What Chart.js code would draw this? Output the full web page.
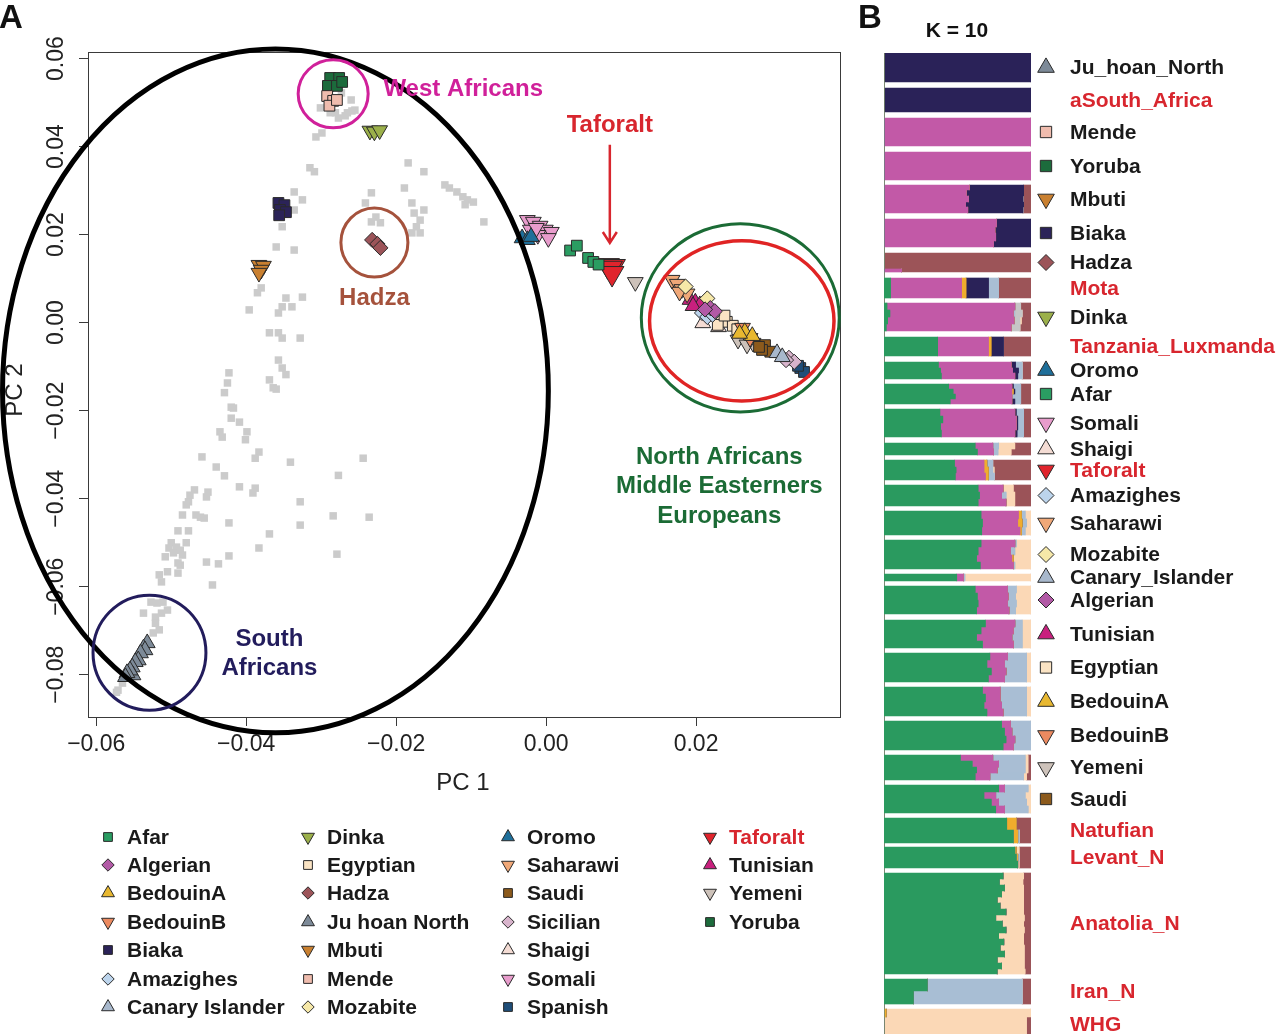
<!DOCTYPE html>
<html>
<head>
<meta charset="utf-8">
<title>PCA and ADMIXTURE K = 10</title>
<script src="https://cdn.jsdelivr.net/npm/chart.js@4"></script>
<style>
  html, body { margin: 0; padding: 0; background: #fff; overflow: hidden; }
  #wrap { position: relative; width: 1280px; height: 1034px; }
  #pca { position: absolute; left: 0; top: 0; }
  #admix { position: absolute; left: 850px; top: 0; }
</style>
</head>
<body>
<div id="wrap">
  <canvas id="pca" width="860" height="1034"></canvas>
  <canvas id="admix" width="430" height="1040"></canvas>
</div>
<script>
// ---------- panel A data (PC1, PC2) ----------
const xTicks = [-0.06, -0.04, -0.02, 0.00, 0.02];
const yTicks = [-0.08, -0.06, -0.04, -0.02, 0.00, 0.02, 0.04, 0.06];

const refPanel = [
  [-0.0307,0.0422],[-0.0299,0.0431],[-0.0273,0.0522],[-0.0260,0.0506],[-0.0265,0.0477],[-0.0281,0.0477],
  [-0.0255,0.0483],[-0.0301,0.0488],[-0.0288,0.0477],[-0.0268,0.0470],[-0.0259,0.0481],[-0.0277,0.0465],
  [-0.0315,0.0352],[-0.0309,0.0343],[-0.0184,0.0363],[-0.0163,0.0343],[-0.0189,0.0306],
  [-0.0135,0.0313],[-0.0129,0.0306],[-0.0119,0.0297],[-0.0111,0.0286],[-0.0105,0.0279],[-0.0097,0.0274],
  [-0.0108,0.0268],[-0.0083,0.0229],[-0.0336,0.0297],[-0.0325,0.0279],[-0.0233,0.0295],[-0.0241,0.0272],
  [-0.0179,0.0272],[-0.0163,0.0256],[-0.0176,0.0249],[-0.0168,0.0233],[-0.0173,0.0218],[-0.0168,0.0204],
  [-0.0179,0.0204],[-0.0227,0.0240],[-0.0233,0.0229],[-0.0221,0.0227],[-0.0336,0.0256],[-0.0352,0.0218],
  [-0.0360,0.0172],[-0.0336,0.0165],[-0.0380,0.0079],[-0.0385,0.0068],[-0.0347,0.0056],[-0.0325,0.0058],
  [-0.0352,0.0036],[-0.0339,0.0036],[-0.0357,0.0022],[-0.0396,0.0029],[-0.0369,-0.0023],[-0.0357,-0.0023],
  [-0.0352,-0.0035],[-0.0328,-0.0035],[-0.0357,-0.0085],[-0.0352,-0.0103],[-0.0347,-0.0118],[-0.0369,-0.0130],
  [-0.0364,-0.0148],[-0.0423,-0.0114],[-0.0425,-0.0137],[-0.0429,-0.0159],[-0.0360,-0.0151],[-0.0420,-0.0192],
  [-0.0417,-0.0194],[-0.0420,-0.0217],[-0.0409,-0.0226],[-0.0435,-0.0248],[-0.0432,-0.0260],[-0.0399,-0.0248],
  [-0.0401,-0.0266],[-0.0459,-0.0305],[-0.0440,-0.0328],[-0.0429,-0.0348],[-0.0383,-0.0294],[-0.0388,-0.0308],
  [-0.0341,-0.0317],[-0.0244,-0.0308],[-0.0277,-0.0347],[-0.0469,-0.0380],[-0.0475,-0.0392],[-0.0477,-0.0407],
  [-0.0480,-0.0414],[-0.0451,-0.0385],[-0.0453,-0.0396],[-0.0409,-0.0373],[-0.0388,-0.0376],[-0.0391,-0.0387],
  [-0.0328,-0.0407],[-0.0485,-0.0437],[-0.0461,-0.0442],[-0.0456,-0.0444],[-0.0467,-0.0437],[-0.0423,-0.0455],
  [-0.0328,-0.0460],[-0.0284,-0.0439],[-0.0236,-0.0442],[-0.0491,-0.0473],[-0.0477,-0.0473],[-0.0369,-0.0480],
  [-0.0500,-0.0500],[-0.0493,-0.0510],[-0.0488,-0.0517],[-0.0480,-0.0500],[-0.0503,-0.0512],[-0.0497,-0.0523],
  [-0.0485,-0.0528],[-0.0508,-0.0532],[-0.0383,-0.0512],[-0.0279,-0.0526],[-0.0423,-0.0530],[-0.0488,-0.0551],
  [-0.0491,-0.0546],[-0.0453,-0.0544],[-0.0437,-0.0548],[-0.0516,-0.0573],[-0.0505,-0.0566],[-0.0491,-0.0569],
  [-0.0513,-0.0589],[-0.0445,-0.0596],[-0.0527,-0.0635],[-0.0519,-0.0637],[-0.0511,-0.0635],[-0.0505,-0.0653],
  [-0.0513,-0.0660],[-0.0521,-0.0669],[-0.0516,-0.0698],[-0.0524,-0.0705],[-0.0537,-0.0660],[-0.0521,-0.0683],
  [-0.0571,-0.0835],[-0.0573,-0.0840],[-0.0565,-0.0819]
];

const afar = [[0.0032,0.0164],[0.0041,0.0175],[0.0056,0.0147],[0.0063,0.0138],[0.0070,0.0132]];
const algerian = [[0.0219,0.0033],[0.0225,0.0026],[0.0212,0.0030]];
const bedouinA = [[0.0265,-0.0021],[0.0275,-0.0030],[0.0258,-0.0025]];
const bedouinB = [[0.0262,-0.0012],[0.0272,-0.0035]];
const biaka = [[-0.0357,0.0272],[-0.0349,0.0267],[-0.0355,0.0256],[-0.0347,0.0251],[-0.0356,0.0244]];
const amazighes = [[0.0208,0.0022],[0.0215,0.0013],[0.0222,0.0018]];
const canaryIslander = [[0.0308,-0.0069],[0.0315,-0.0078]];
const dinka = [[-0.0235,0.0436],[-0.0229,0.0434],[-0.0222,0.0437]];
const egyptian = [[0.0232,0.0011],[0.0241,0.0002],[0.0249,-0.0007],[0.0229,-0.0005],[0.0238,0.0016],[0.0255,-0.0015]];
const hadza = [[-0.0232,0.0188],[-0.0225,0.0179],[-0.0221,0.0170]];
const juHoanNorth = [[-0.0532,-0.0728],[-0.0537,-0.0740],[-0.0535,-0.0744],[-0.0541,-0.0751],[-0.0544,-0.0767],
  [-0.0548,-0.0771],[-0.0552,-0.0783],[-0.0551,-0.0801],[-0.0555,-0.0790],[-0.0559,-0.0796],[-0.0561,-0.0805]];
const mbuti = [[-0.0383,0.0131],[-0.0377,0.0129],[-0.0380,0.0120],[-0.0383,0.0113]];
const mende = [[-0.0292,0.0515],[-0.0284,0.0504],[-0.0289,0.0493],[-0.0279,0.0506]];
const mozabite = [[0.0215,0.0055],[0.0186,0.0082]];
const oromo = [[-0.0032,0.0192],[-0.0025,0.0188],[-0.0020,0.0195]];
const saharawi = [[0.0168,0.0097],[0.0175,0.0088],[0.0181,0.0076],[0.0188,0.0066],[0.0178,0.0070]];
const saudi = [[0.0292,-0.0051],[0.0299,-0.0066],[0.0288,-0.0062],[0.0284,-0.0055]];
const sicilian = [[0.0324,-0.0080],[0.0331,-0.0089],[0.0320,-0.0085]];
const shaigi = [[0.0209,-0.0001],[0.0230,-0.0010]];
const somali = [[-0.0025,0.0233],[-0.0017,0.0229],[-0.0008,0.0220],[-0.0001,0.0211],[0.0007,0.0206],
  [-0.0021,0.0211],[-0.0011,0.0199],[0.0003,0.0192],[-0.0013,0.0215]];
const spanish = [[0.0339,-0.0103],[0.0344,-0.0112],[0.0336,-0.0098]];
const taforalt = [[0.0082,0.0130],[0.0090,0.0128],[0.0086,0.0124],[0.0088,0.0112]];
const tunisian = [[0.0192,0.0052],[0.0199,0.0046],[0.0205,0.0040],[0.0196,0.0038]];
const yemeni = [[0.0119,0.0092],[0.0256,-0.0039],[0.0276,-0.0046],[0.0268,-0.0050]];
const yoruba = [[-0.0288,0.0556],[-0.0276,0.0556],[-0.0291,0.0538],[-0.0279,0.0538],[-0.0272,0.0547]];

// ---------- panel B data: rows (individuals) then % of each component ----------
// component order: green, magenta, gold, navy, light blue, grey, peach, mauve
const juHoanRows = [[29, 0,0,0,100,0,0,0,0]];
const aSouthAfricaRows = [[24, 0,0,0,100,0,0,0,0]];
const mendeRows = [[28, 0,100,0,0,0,0,0,0]];
const yorubaRows = [[28, 0,100,0,0,0,0,0,0]];
const mbutiRows = [[5, 0,58,0,37,0,0,0,5],[6, 0,56,0,39,0,0,0,5],[6, 0,57.5,0,37,0,0,0,5.5],[5, 0,55.5,0,39.5,0,0,0,5],[6, 0,57,0,37.5,0,0,0,5.5]];
const biakaRows = [[8, 0,76.5,0,23.5,0,0,0,0],[6, 0,75.5,0,24.5,0,0,0,0],[8, 0,76,0,24,0,0,0,0],[6, 0,74.5,0,25.5,0,0,0,0]];
const hadzaRows = [[16, 0,0,0,0,0,0,0,100],[3, 0,12,0,0,0,0,0,88]];
const motaRows = [[20, 4.5,48.3,3,15.3,6.8,0,0,22.1]];
const dinkaRows = [[7, 2,87,0,0,0,4,0,7],[7, 4,84,0,0,1,5,0,6],[7, 2.5,86,0,0,0,4,1,6.5],[7, 1.5,85,0,0,0,6,0,7.5]];
const luxmandaRows = [[19, 36.5,34.6,1.8,8.4,0,0,0,18.7]];
const oromoRows = [[6, 37,49.5,0,3,4.5,0,0,6],[5, 38.5,49,0,4,2.5,0,0,6],[6, 39,50,0,2,3,0,0,6]];
const afarRows = [[5, 44,43,0,1,5,0,0,7],[5, 47,40,1,1,4,0,0,7],[5, 48.5,38.5,0,0,6,0,0,7],[5, 45,42,0,2,4,0,0,7]];
const somaliRows = [[7, 38,51,0,1,5,0,0,5],[7, 40,50,0,1,4,0,0,5],[7, 38.5,51.5,0,1,4,0,0,5],[7, 39,50,0,1.5,4.5,0,0,5]];
const shaigiRows = [[6, 62,12,0,0,4,0,11,11],[6, 63.5,11,0,0,3,0,9,13.5]];
const taforaltRows = [[7, 48,20,2,0,4,0,0,26],[6, 49,19,3,0,3,0,1,25],[7, 48.5,20.5,2,0,4,0,0,25]];
const amazighesRows = [[7, 64,17,0,0,0,0,7,12],[7, 65,15,0,0,3,0,6,11],[7, 64,19,0,0,0,0,6,11]];
const saharawiRows = [[8, 66,25.5,2,0,2.5,0,4,0],[8, 67,24,3,0,3,0,3,0],[8, 66.5,26,1,0,2.5,0,4,0]];
const mozabiteRows = [[7, 66,23,0,0,1,0,10,0],[8, 64,22,0,0,3,0,11,0],[7, 63,24,1,0,0,0,12,0],[7, 65.5,22.5,0,0,1,0,11,0]];
const canaryRows = [[7, 49.5,4.5,0,0,1,0,45,0]];
const algerianRows = [[7, 62,22,0,0,6,0,10,0],[7, 63.5,21,0,0,5,0,10.5,0],[7, 64,20,0,0,6,0,10,0],[7, 63,22,0,0,4.5,0,10.5,0]];
const tunisianRows = [[7, 69,20,0,0,5,0,6,0],[7, 66,22,0,0,6,0,6,0],[7, 63,24,0,0,7,0,6,0],[7, 67,21,0,0,6,0,6,0]];
const egyptianRows = [[7, 72,12,0,0,13,0,3,0],[8, 70,12,0,0,15,0,3,0],[7, 73,10,0,0,14,0,3,0],[7, 71,11,0,0,15,0,3,0]];
const bedouinARows = [[7, 67,12,0,0,18,0,3,0],[8, 69,10,0,0,18,0,3,0],[7, 68,12,0,0,17,0,3,0],[7, 70,11,0,0,16,0,3,0]];
const bedouinBRows = [[7, 80,6,0,0,14,0,0,0],[8, 82,5,0,0,13,0,0,0],[7, 83,6,0,0,11,0,0,0],[7, 81,7,0,0,12,0,0,0]];
const yemeniRows = [[6, 52,22,0,0,22,0,2,2],[6, 60,18,0,0,18,0,2,2],[6, 63,14,0,0,19,0,2,2],[7, 62,10,0,0,23,0,2,3]];
const saudiRows = [[7, 78,4,0,0,16,0,2,0],[7, 68,8,0,0,20,0,4,0],[7, 73,5,0,0,19,0,3,0],[7, 76,6,0,0,16,0,2,0]];
const natufianRows = [[12, 83.5,0,6.5,0,0,0,0,10],[13, 88,0,3,0,1,0,0,8]];
const levantNRows = [[7, 89,0,1,0,0,0,2,8],[7, 90,0,1,0,1,0,0,8],[7, 91,0,0,0,0,0,1,8]];
const anatoliaNRows = [
  [6, 81,0,0,0,0,0,14,5],[6, 78.5,0,0,0,0,0,16,5.5],[6, 82,0,0,0,0,0,13,5],[6, 80,0,0,0,0,0,15,5],
  [6, 77,0,0,0,0,0,18,5],[6, 79,0,0,0,0,0,16,5],[6, 83,0,0,0,0,0,12,5],[6, 76,0,0,0,0,0,19.5,4.5],
  [6, 80.5,0,0,0,0,0,14.5,5],[6, 83,0,0,0,0,0,12.5,4.5],[6, 78,0,0,0,0,0,17,5],[6, 81.5,0,0,0,0,0,13.5,5],
  [6, 79,0,0,0,0,0,16.5,4.5],[6, 82,0,0,0,0,0,13.5,4.5],[6, 77,0,0,0,0,0,18.5,4.5],[6, 80,0,0,0,0,0,15.5,4.5],
  [5, 77,0,0,0,0,0,19,4]
];
const iranNRows = [[12, 29.5,0,0,0,64.5,0,0,6],[13, 20,0,0,0,74,0,0,6]];
const whgRows = [[8, 0,0,1.5,0,0,0,98.5,0],[23, 0,0,0,0,0,0,97,3]];

const blockNames = ['Ju_hoan_North','aSouth_Africa','Mende','Yoruba','Mbuti','Biaka','Hadza','Mota','Dinka',
  'Tanzania_Luxmanda','Oromo','Afar','Somali','Shaigi','Taforalt','Amazighes','Saharawi','Mozabite',
  'Canary_Islander','Algerian','Tunisian','Egyptian','BedouinA','BedouinB','Yemeni','Saudi','Natufian',
  'Levant_N','Anatolia_N','Iran_N','WHG'];
const blockRows = [juHoanRows, aSouthAfricaRows, mendeRows, yorubaRows, mbutiRows, biakaRows, hadzaRows, motaRows,
  dinkaRows, luxmandaRows, oromoRows, afarRows, somaliRows, shaigiRows, taforaltRows, amazighesRows, saharawiRows,
  mozabiteRows, canaryRows, algerianRows, tunisianRows, egyptianRows, bedouinARows, bedouinBRows, yemeniRows,
  saudiRows, natufianRows, levantNRows, anatoliaNRows, iranNRows, whgRows];
const blockGaps = [6,6,6,5,6,6,6,5,6,6,5,5,6,5,5,5,5,5,5,6,5,5,5,5,5,5,4,5,5,5];
const ancient = ['aSouth_Africa','Mota','Tanzania_Luxmanda','Taforalt','Natufian','Levant_N','Anatolia_N','Iran_N','WHG'];

// ---------- styles ----------
const FONT = "'Liberation Sans', Arial, Helvetica, sans-serif";
const RED = '#d8262e';
const COMP_COLORS = ['#2b9a5f', '#c25aa7', '#f0ae2e', '#2b2358', '#a9bed4', '#c6c6c6', '#fbd8b6', '#9c5459'];
const SHAPES = {
  sq:  { style: 'rect', rot: 0, k: 1.0 },
  tri: { style: 'triangle', rot: 0, k: 1.2 },
  inv: { style: 'triangle', rot: 180, k: 1.2 },
  dia: { style: 'rectRot', rot: 0, k: 1.0 }
};
const POPS = [
  ['Afar', '#2a9d62', 'sq', afar], ['Algerian', '#b25aa6', 'dia', algerian], ['BedouinA', '#e8b830', 'tri', bedouinA],
  ['BedouinB', '#ec8a60', 'inv', bedouinB], ['Biaka', '#2b2358', 'sq', biaka], ['Amazighes', '#bcd4ec', 'dia', amazighes],
  ['Canary Islander', '#a8b8cc', 'tri', canaryIslander],
  ['Dinka', '#9bb04a', 'inv', dinka], ['Egyptian', '#fbe4c4', 'sq', egyptian], ['Hadza', '#9c5459', 'dia', hadza],
  ['Ju hoan North', '#7d8a98', 'tri', juHoanNorth], ['Mbuti', '#c98030', 'inv', mbuti], ['Mende', '#efbcae', 'sq', mende],
  ['Mozabite', '#f6e8a8', 'dia', mozabite],
  ['Oromo', '#1f6f9a', 'tri', oromo], ['Saharawi', '#f0a878', 'inv', saharawi], ['Saudi', '#8c5a1c', 'sq', saudi],
  ['Sicilian', '#d8b4cc', 'dia', sicilian], ['Shaigi', '#f4dcd4', 'tri', shaigi], ['Somali', '#e89ccc', 'inv', somali],
  ['Spanish', '#1f4e79', 'sq', spanish],
  ['Taforalt', '#e0242c', 'inv', taforalt], ['Tunisian', '#c8207e', 'tri', tunisian], ['Yemeni', '#cdc2ba', 'inv', yemeni],
  ['Yoruba', '#1c6b3c', 'sq', yoruba]
];

// ellipses: centre x, centre y, radius x, radius y (data units), colour, line width
const rings = [
  [-0.0361, -0.0155, 0.0364, 0.0777, '#000000', 5],
  [-0.0284, 0.0520, 0.00467, 0.00773, '#d0209a', 3],
  [-0.0229, 0.0182, 0.00447, 0.00784, '#a5523c', 3],
  [-0.0529, -0.0750, 0.00753, 0.01307, '#221c5c', 3],
  [0.0259, 0.0011, 0.0132, 0.0214, '#1b6b35', 3],
  [0.0261, 0.0004, 0.0123, 0.0182, '#e02424', 3.5]
];
// text notes: lines, x, y (data units), colour, align
const notes = [
  [['West Africans'], -0.0217, 0.0529, '#d0209a', 'left'],
  [['Taforalt'], 0.0085, 0.0449, RED, 'center'],
  [['Hadza'], -0.0229, 0.0056, '#a5523c', 'center'],
  [['South', 'Africans'], -0.0369, -0.0719, '#221c5c', 'center'],
  [['North Africans', 'Middle Easterners', 'Europeans'], 0.0231, -0.0305, '#1b6b35', 'center']
];

const fmt = v => (Math.abs(v) < 1e-9 ? 0 : v).toFixed(2).replace('-', '\u2212');

Chart.defaults.font.family = FONT;
Chart.defaults.color = '#1a1a1a';

function marker(ctx, shape, color, x, y, r) {
  const s = SHAPES[shape];
  ctx.fillStyle = color;
  ctx.strokeStyle = '#2a2a2a';
  ctx.lineWidth = 1;
  Chart.helpers.drawPoint(ctx, { pointStyle: s.style, rotation: s.rot, radius: r * s.k, borderWidth: 1 }, x, y);
}

// ---------- panel A ----------
const pcaDatasets = [{
  label: 'reference',
  data: refPanel.map(p => ({ x: p[0], y: p[1] })),
  pointStyle: 'rect', pointRadius: 5.3, pointBackgroundColor: '#cbcbcb', pointBorderWidth: 0,
  order: 10
}];
POPS.forEach(([name, color, shape, pts]) => {
  const big = name === 'Taforalt' ? 1.5 : 1;
  pcaDatasets.push({
    label: name,
    data: pts.map(p => ({ x: p[0], y: p[1] })),
    pointStyle: SHAPES[shape].style,
    pointRotation: SHAPES[shape].rot,
    pointRadius: 7.6 * SHAPES[shape].k * big,
    pointBackgroundColor: color,
    pointBorderColor: '#2a2a2a',
    pointBorderWidth: 1
  });
});

const pcaExtras = {
  id: 'pcaExtras',
  afterDraw(chart) {
    const { ctx, chartArea: a, scales: { x, y } } = chart;
    const px = v => x.getPixelForValue(v), py = v => y.getPixelForValue(v);
    ctx.save();
    // plot box
    ctx.strokeStyle = '#3a3a3a';
    ctx.lineWidth = 1;
    ctx.strokeRect(Math.round(a.left) + 0.5, Math.round(a.top) + 0.5, Math.round(a.right - a.left), Math.round(a.bottom - a.top));

    // y tick labels rotated, R style
    ctx.fillStyle = '#222';
    ctx.font = '23px ' + FONT;
    ctx.textAlign = 'center';
    ctx.textBaseline = 'middle';
    yTicks.forEach(v => {
      ctx.save();
      ctx.translate(57, py(v));
      ctx.rotate(-Math.PI / 2);
      ctx.fillText(fmt(v), 0, 0);
      ctx.restore();
    });
    // axis titles
    ctx.font = '24px ' + FONT;
    ctx.fillText('PC 1', 463, 783);
    ctx.save();
    ctx.translate(15, 390);
    ctx.rotate(-Math.PI / 2);
    ctx.fillText('PC 2', 0, 0);
    ctx.restore();

    // rings
    rings.forEach(([cx, cy, rx, ry, color, w]) => {
      ctx.beginPath();
      ctx.strokeStyle = color;
      ctx.lineWidth = w;
      ctx.ellipse(px(cx), py(cy), Math.abs(px(cx + rx) - px(cx)), Math.abs(py(cy + ry) - py(cy)), 0, 0, Math.PI * 2);
      ctx.stroke();
    });

    // Taforalt arrow
    const ax = px(0.0085), ay0 = py(0.0404), ay1 = py(0.0181);
    ctx.strokeStyle = RED;
    ctx.lineWidth = 2.5;
    ctx.beginPath();
    ctx.moveTo(ax, ay0); ctx.lineTo(ax, ay1);
    ctx.moveTo(ax - 7, ay1 - 11); ctx.lineTo(ax, ay1); ctx.lineTo(ax + 7, ay1 - 11);
    ctx.stroke();

    // notes
    ctx.font = 'bold 24px ' + FONT;
    notes.forEach(([lines, nx, ny, color, align]) => {
      ctx.fillStyle = color;
      ctx.textAlign = align;
      lines.forEach((t, i) => ctx.fillText(t, px(nx), py(ny) + i * 29.5));
    });

    // panel letter
    ctx.fillStyle = '#111';
    ctx.textAlign = 'left';
    ctx.textBaseline = 'alphabetic';
    ctx.font = 'bold 33px ' + FONT;
    ctx.fillText('A', -1, 28);

    // legend, four columns
    const colX = [108, 308, 508, 710];
    const rowY = [837, 865, 893, 922, 950, 979, 1007];
    ctx.font = 'bold 21px ' + FONT;
    ctx.textBaseline = 'middle';
    POPS.forEach(([name, color, shape], i) => {
      const c = Math.floor(i / 7), r = i % 7;
      marker(ctx, shape, color, colX[c], rowY[r], 6.2);
      ctx.fillStyle = name === 'Taforalt' ? RED : '#1a1a1a';
      ctx.fillText(name, colX[c] + 19, rowY[r] + 1);
    });
    ctx.restore();
  }
};

new Chart(document.getElementById('pca'), {
  type: 'scatter',
  data: { datasets: pcaDatasets },
  options: {
    responsive: false,
    animation: false,
    events: [],
    layout: { padding: { left: 0, right: 20, top: 52, bottom: 0 }, autoPadding: false },
    plugins: { legend: { display: false }, tooltip: { enabled: false } },
    scales: {
      x: {
        type: 'linear', min: -0.0611, max: 0.0392,
        afterBuildTicks: s => { s.ticks = xTicks.map(v => ({ value: v })); },
        afterFit: s => { s.height = 1034 - 717; },
        border: { display: false },
        grid: { drawOnChartArea: false, drawTicks: true, tickLength: 9, color: '#3a3a3a' },
        ticks: { font: { size: 23 }, color: '#222', padding: 5, maxRotation: 0, autoSkip: false, callback: v => fmt(v) }
      },
      y: {
        type: 'linear', min: -0.0896, max: 0.0615,
        afterBuildTicks: s => { s.ticks = yTicks.map(v => ({ value: v })); },
        afterFit: s => { s.width = 88; },
        border: { display: false },
        grid: { drawOnChartArea: false, drawTicks: true, tickLength: 9, color: '#3a3a3a' },
        ticks: { display: false }
      }
    }
  },
  plugins: [pcaExtras]
});

// ---------- panel B ----------
const compData = COMP_COLORS.map(() => []);
const blockSpans = [];
let row = 0;
blockRows.forEach((strips, b) => {
  const start = row;
  strips.forEach(s => {
    for (let k = 0; k < s[0]; k++) {
      s.slice(1).forEach((v, c) => compData[c].push(v));
      row++;
    }
  });
  blockSpans.push([start, row - 1]);
  for (let k = 0; k < (blockGaps[b] || 0); k++) {
    compData.forEach(d => d.push(0));
    row++;
  }
});

const admixLabels = {
  id: 'admixLabels',
  afterDraw(chart) {
    const { ctx, scales: { y } } = chart;
    ctx.save();
    ctx.fillStyle = '#111';
    ctx.font = 'bold 33px ' + FONT;
    ctx.textBaseline = 'alphabetic';
    ctx.fillText('B', 8, 28);
    ctx.font = 'bold 21px ' + FONT;
    ctx.textAlign = 'center';
    ctx.textBaseline = 'middle';
    ctx.fillText('K = 10', 107, 31);
    ctx.textAlign = 'left';
    blockNames.forEach((name, b) => {
      const cy = (y.getPixelForValue(blockSpans[b][0]) + y.getPixelForValue(blockSpans[b][1])) / 2;
      const pop = POPS.find(p => p[0] === name.replace(/_/g, ' '));
      if (pop) marker(ctx, pop[2], pop[1], 196, cy, 8);
      ctx.fillStyle = ancient.includes(name) ? RED : '#1a1a1a';
      ctx.fillText(name, 220, cy + 1);
    });
    ctx.restore();
  }
};

new Chart(document.getElementById('admix'), {
  type: 'bar',
  data: {
    labels: compData[0].map((_, i) => i),
    datasets: COMP_COLORS.map((c, i) => ({
      data: compData[i], backgroundColor: c, borderWidth: 0,
      barPercentage: 1, categoryPercentage: 1
    }))
  },
  options: {
    indexAxis: 'y',
    responsive: false,
    animation: false,
    events: [],
    layout: { padding: { left: 34, right: 249, top: 53, bottom: 0 }, autoPadding: false },
    plugins: { legend: { display: false }, tooltip: { enabled: false } },
    scales: {
      x: { stacked: true, display: false, min: 0, max: 100 },
      y: { stacked: true, display: false }
    }
  },
  plugins: [admixLabels]
});
</script>
</body>
</html>
